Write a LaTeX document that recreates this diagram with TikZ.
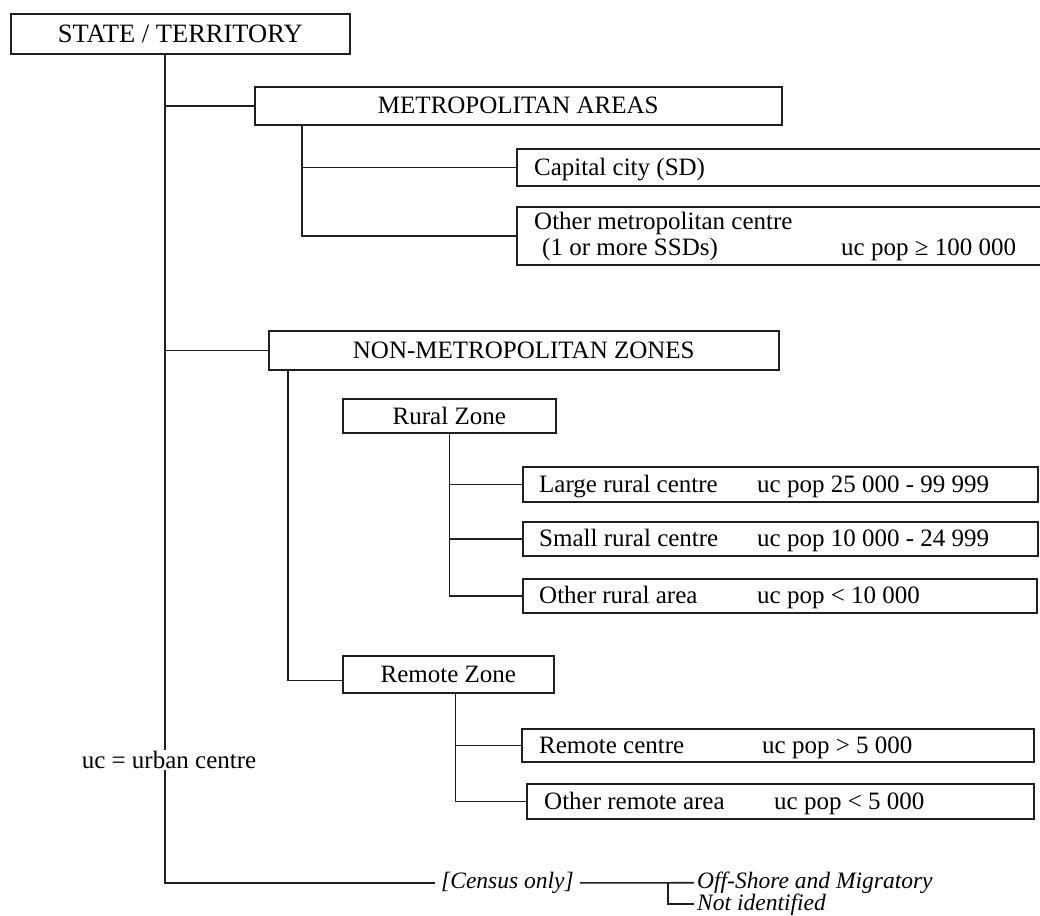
\documentclass[tikz,border=0pt]{standalone}
\usepackage{fontspec}
\setmainfont{Liberation Serif}
\usetikzlibrary{calc}
\begin{document}
\begin{tikzpicture}[x=1pt,y=-1pt,
  font=\fontsize{25}{28}\selectfont,
  box/.style={draw=black!88, line width=1.6pt, fill=white, inner sep=0pt, anchor=north west},
  lbl/.style={anchor=base west, inner sep=0pt},
  itl/.style={anchor=base west, inner ysep=0pt, font=\fontsize{23.5}{26}\selectfont\itshape},
  link/.style={draw=black!88, line width=1.6pt}]
\useasboundingbox (0,0) rectangle (1040,915);
\clip (0,0) rectangle (1040,915);

% ---- boxes ----
\node[box, minimum width=339pt, minimum height=40pt, font=\fontsize{26.5}{30}\selectfont] (state) at (10,13) {STATE / TERRITORY};
\node[box, minimum width=527pt, minimum height=38pt] (metro) at (254,86) {METROPOLITAN AREAS};
\node[box, minimum width=544pt, minimum height=37pt] (capital) at (516,148) {};
\node[box, minimum width=544pt, minimum height=58pt] (othermetro) at (516,206) {};
\node[box, minimum width=510pt, minimum height=39pt] (nonmetro) at (268,330) {NON-METROPOLITAN ZONES};
\node[box, minimum width=213pt, minimum height=34pt] (rural) at (342,398) {Rural Zone};
\node[box, minimum width=515pt, minimum height=35pt] (large) at (522,466) {};
\node[box, minimum width=515pt, minimum height=34pt] (small) at (522,521) {};
\node[box, minimum width=514pt, minimum height=34pt] (otherrural) at (522,578) {};
\node[box, minimum width=211pt, minimum height=37pt] (remote) at (342,655) {Remote Zone};
\node[box, minimum width=512pt, minimum height=33pt] (remotecentre) at (521,728) {};
\node[box, minimum width=507pt, minimum height=35pt] (otherremote) at (526,783) {};

% ---- box contents ----
\node[lbl] (capitalA) at (534,175) {Capital city (SD)};
\node[lbl] (othermetroA) at (534,229) {Other metropolitan centre};
\node[lbl] (othermetroB) at (542,255.5) {(1 or more SSDs)};
\node[lbl] (othermetroC) at (841,255.5) {uc pop ≥ 100 000};
\node[lbl] (largeA) at (539,492) {Large rural centre};
\node[lbl] (largeB) at (757,492) {uc pop 25 000 - 99 999};
\node[lbl] (smallA) at (539,546.5) {Small rural centre};
\node[lbl] (smallB) at (757,546.5) {uc pop 10 000 - 24 999};
\node[lbl] (otherruralA) at (539,603.5) {Other rural area};
\node[lbl] (otherruralB) at (757,603.5) {uc pop < 10 000};
\node[lbl] (remotecentreA) at (539,753) {Remote centre};
\node[lbl] (remotecentreB) at (762,753) {uc pop > 5 000};
\node[lbl] (otherremoteA) at (544,809) {Other remote area};
\node[lbl] (otherremoteB) at (774,809) {uc pop < 5 000};

% ---- census-only branch ----
\node[itl, inner xsep=6pt] (census) at (435,888.5) {[Census only]};
\node[itl, inner xsep=3pt] (offshore) at (694,888.5) {Off-Shore and Migratory};
\node[itl, inner xsep=3pt] (notid) at (694,910) {Not identified};

% ---- connectors ----
\coordinate (trunk) at (165,0);
\coordinate (fork) at (668,0);
\draw[link] (state.south -| trunk) |- (metro.west);
\draw[link] (state.south -| trunk) |- (nonmetro.west);
\draw[link] (state.south -| trunk) |- (census.west);

\draw[link] ($(metro.south west)+(48,0)$) |- (capital.west);
\draw[link] ($(metro.south west)+(48,0)$) |- (othermetro.west);

\draw[link] ($(nonmetro.south west)+(20,0)$) |- ($(remote.west)+(0,6)$);

\draw[link] (rural.south) |- (large.west);
\draw[link] (rural.south) |- (small.west);
\draw[link] (rural.south) |- (otherrural.west);

\draw[link] ($(remote.south)+(7,0)$) |- (remotecentre.west);
\draw[link] ($(remote.south)+(7,0)$) |- (otherremote.west);

\draw[link] (census.east) -- (offshore.west);
\draw[link] (census.east -| fork) |- (notid.west);

% ---- legend over the trunk ----
\node[fill=white, inner sep=1pt] (note) at (169,760) {uc = urban centre};
\end{tikzpicture}
\end{document}
